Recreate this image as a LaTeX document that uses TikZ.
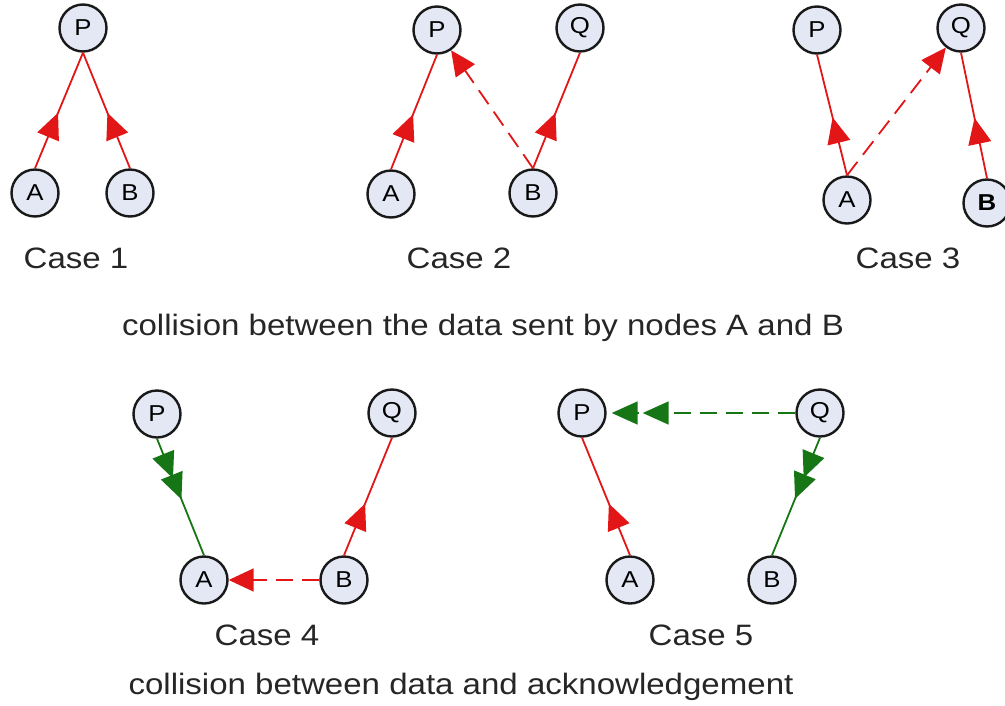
\documentclass[tikz,border=0pt]{standalone}
\usepackage{fontspec}
\setmainfont{Liberation Sans}[FakeStretch=1.12]
\usetikzlibrary{arrows.meta,decorations.markings}
\definecolor{nodefill}{RGB}{227,232,244}
\definecolor{myred}{RGB}{226,22,22}
\definecolor{mygreen}{RGB}{22,118,22}
\tikzset{
  nd/.style={circle, draw=black!90, line width=2.4pt, fill=nodefill, minimum size=47pt, inner sep=0pt, font=\fontsize{23}{26}\selectfont},
  lbl/.style={anchor=base, inner sep=0pt, font=\fontsize{29.5}{34}\selectfont, text=black!85},
  redline/.style={draw=myred, line width=1.8pt},
  greenline/.style={draw=mygreen, line width=1.8pt},
  dashline/.style={dash pattern=on 17pt off 9pt},
  midred/.style={postaction={decorate}, decoration={markings, mark=at position #1 with {\arrow{Triangle[length=26pt,width=23pt]}}}},
  midgreen/.style={postaction={decorate}, decoration={markings,
      mark=at position 0.34 with {\arrow{Triangle[length=26pt,width=23pt]}},
      mark=at position 0.52 with {\arrow{Triangle[length=26pt,width=23pt]}}}},
  endred/.style={-{Triangle[length=25pt,width=23pt]}},
  endgreen/.style={-{Triangle[length=26pt,width=23pt,sep=5pt]Triangle[length=26pt,width=23pt,sep=5pt]}}
}
\begin{document}
\begin{tikzpicture}[x=1pt,y=-1pt]
\useasboundingbox (0,0) rectangle (1005,705);
\clip (0,0) rectangle (1005,705);
% Case 1
\node[nd] (p1) at (83,28) {P};
\node[nd] (a1) at (35,193) {A};
\node[nd] (b1) at (130,193) {B};
\draw[redline, midred=0.48] (a1.north) -- (p1.south);
\draw[redline, midred=0.48] (b1.north) -- (p1.south);
\node[lbl] (c1) at (76,268) {Case 1};
% Case 2
\node[nd] (p2) at (437,30) {P};
\node[nd] (q2) at (580,28) {Q};
\node[nd] (a2) at (391,194) {A};
\node[nd] (b2) at (533,193) {B};
\draw[redline, midred=0.48] (a2.north) -- (p2.south);
\draw[redline, midred=0.48] (b2.north) -- (q2.south);
\draw[redline, dashline, endred] (b2.north) -- (p2);
\node[lbl] (c2) at (459,268) {Case 2};
% Case 3
\node[nd] (p3) at (817,30) {P};
\node[nd] (q3) at (961,28) {Q};
\node[nd] (a3) at (847,200) {A};
\node[nd, font=\fontsize{23}{26}\selectfont\bfseries] (b3) at (987,203) {B};
\draw[redline, midred=0.48] (a3.north) -- (p3.south);
\draw[redline, midred=0.48] (b3.north) -- (q3.south);
\draw[redline, dashline, endred] (a3.north) -- (q3);
\node[lbl] (c3) at (908,268) {Case 3};
\node[lbl] (cap1) at (483,335) {collision between the data sent by nodes A and B};
% Case 4
\node[nd] (p4) at (157,414) {P};
\node[nd] (q4) at (392,413) {Q};
\node[nd] (a4) at (204,580) {A};
\node[nd] (b4) at (344,580) {B};
\draw[greenline, midgreen] (p4.south) -- (a4.north);
\draw[redline, midred=0.44] (b4.north) -- (q4.south);
\draw[redline, dashline, endred] (b4.west) -- (a4.east);
\node[lbl] (c4) at (267,645) {Case 4};
% Case 5
\node[nd] (p5) at (582,413) {P};
\node[nd] (q5) at (820,413) {Q};
\node[nd] (a5) at (630,580) {A};
\node[nd] (b5) at (772,580) {B};
\draw[greenline, dashline, endgreen] (q5.west) -- (p5.east);
\draw[redline, midred=0.44] (a5.north) -- (p5.south);
\draw[greenline, midgreen] (q5.south) -- (b5.north);
\node[lbl] (c5) at (701,645) {Case 5};
\node[lbl] (cap2) at (461,694) {collision between data and acknowledgement};
\end{tikzpicture}
\end{document}
